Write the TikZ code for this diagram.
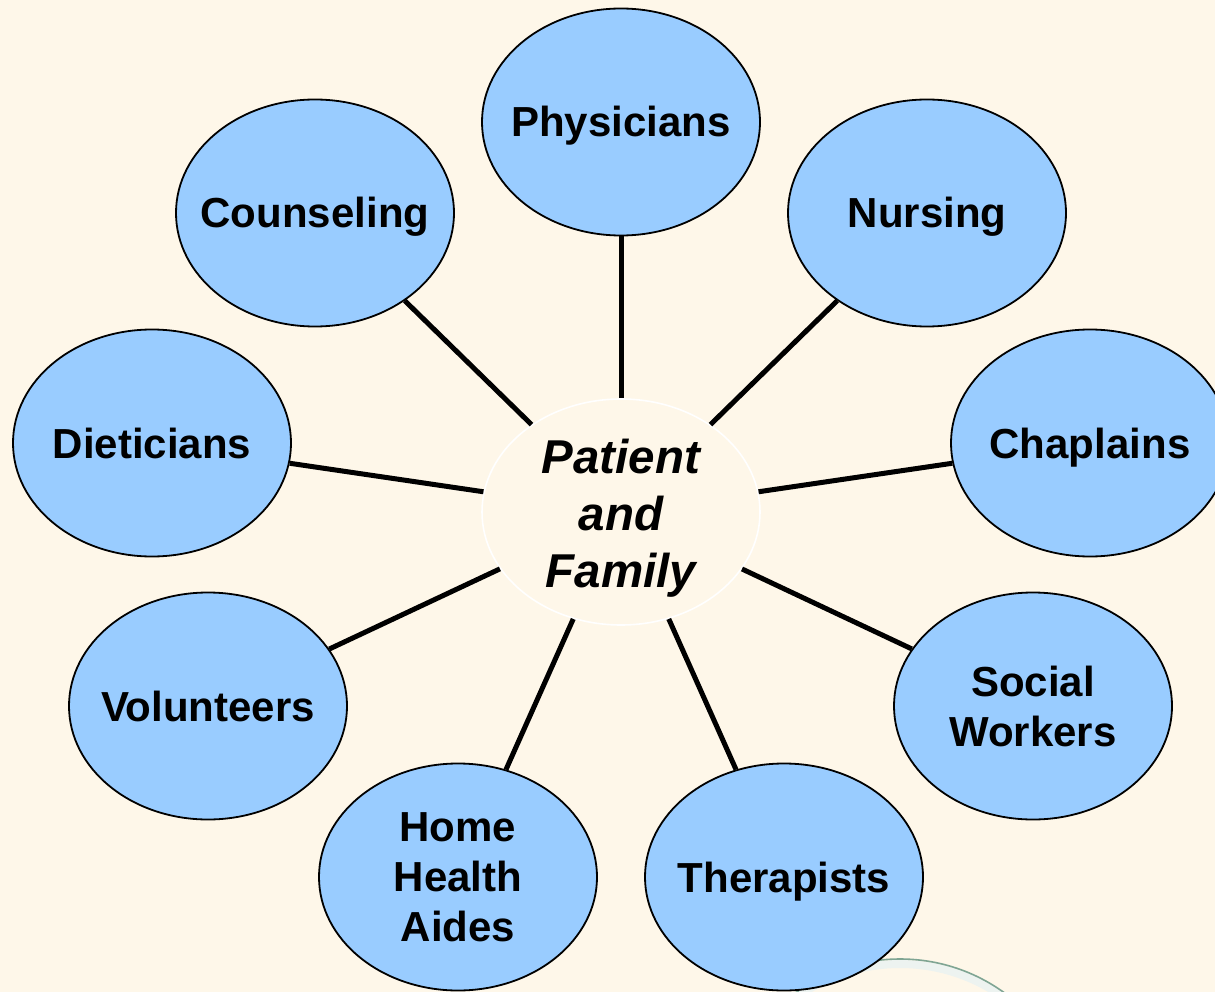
\documentclass[tikz,border=0pt]{standalone}
\usepackage{fontspec}
\setmainfont{Liberation Sans}
\usetikzlibrary{shapes.geometric}
\definecolor{bg}{HTML}{FEF7E9}
\definecolor{blob}{HTML}{99CCFF}
\definecolor{arcg}{HTML}{7FA593}
\begin{document}
\begin{tikzpicture}[x=1pt,y=-1pt,
 role/.style={ellipse,draw=black,line width=1.8pt,fill=blob,minimum width=278pt,minimum height=227pt,inner xsep=-45pt,inner ysep=0pt,align=center,font=\fontsize{42}{50}\selectfont\bfseries},
 oneline/.style={text height=30pt,text depth=0pt},
 hub/.style={ellipse,draw=white,line width=1.6pt,fill=bg,minimum width=278pt,minimum height=226pt,inner sep=0pt},
 hubtext/.style={align=center,inner sep=0pt,font=\fontsize{47.5}{57}\selectfont\bfseries\itshape},
 link/.style={line width=5pt,black}]
\fill[bg] (0,0) rectangle (1215,992);
\useasboundingbox (0,0) rectangle (1215,992);
\clip (0,0) rectangle (1215,992);
% decorative arc
\draw[arcg!14,line width=8pt] (900,1142) circle (178);
\draw[arcg,line width=1.6pt] (900,1137) circle (178);
% nodes
\node[hub,label={[hubtext,yshift=-6pt]center:{Patient\\and\\Family}}] (c) at (621,512) {};
\node[role,oneline] (phy) at (621,122) {Physicians};
\node[role,oneline] (cou) at (315,213) {Counseling};
\node[role,oneline] (nur) at (927,213) {Nursing};
\node[role,oneline] (die) at (152,443) {Dieticians};
\node[role,oneline] (cha) at (1090,443) {Chaplains};
\node[role,oneline] (vol) at (208,706) {Volunteers};
\node[role] (soc) at (1033,706) {Social\\Workers};
\node[role] (hha) at (458,877) {Home\\Health\\Aides};
\node[role,oneline] (the) at (784,877) {Therapists};
% connectors
\foreach \n in {phy,cou,nur,die,cha,vol,soc,hha,the}
  \draw[link] (\n) -- (c);
\end{tikzpicture}
\end{document}
